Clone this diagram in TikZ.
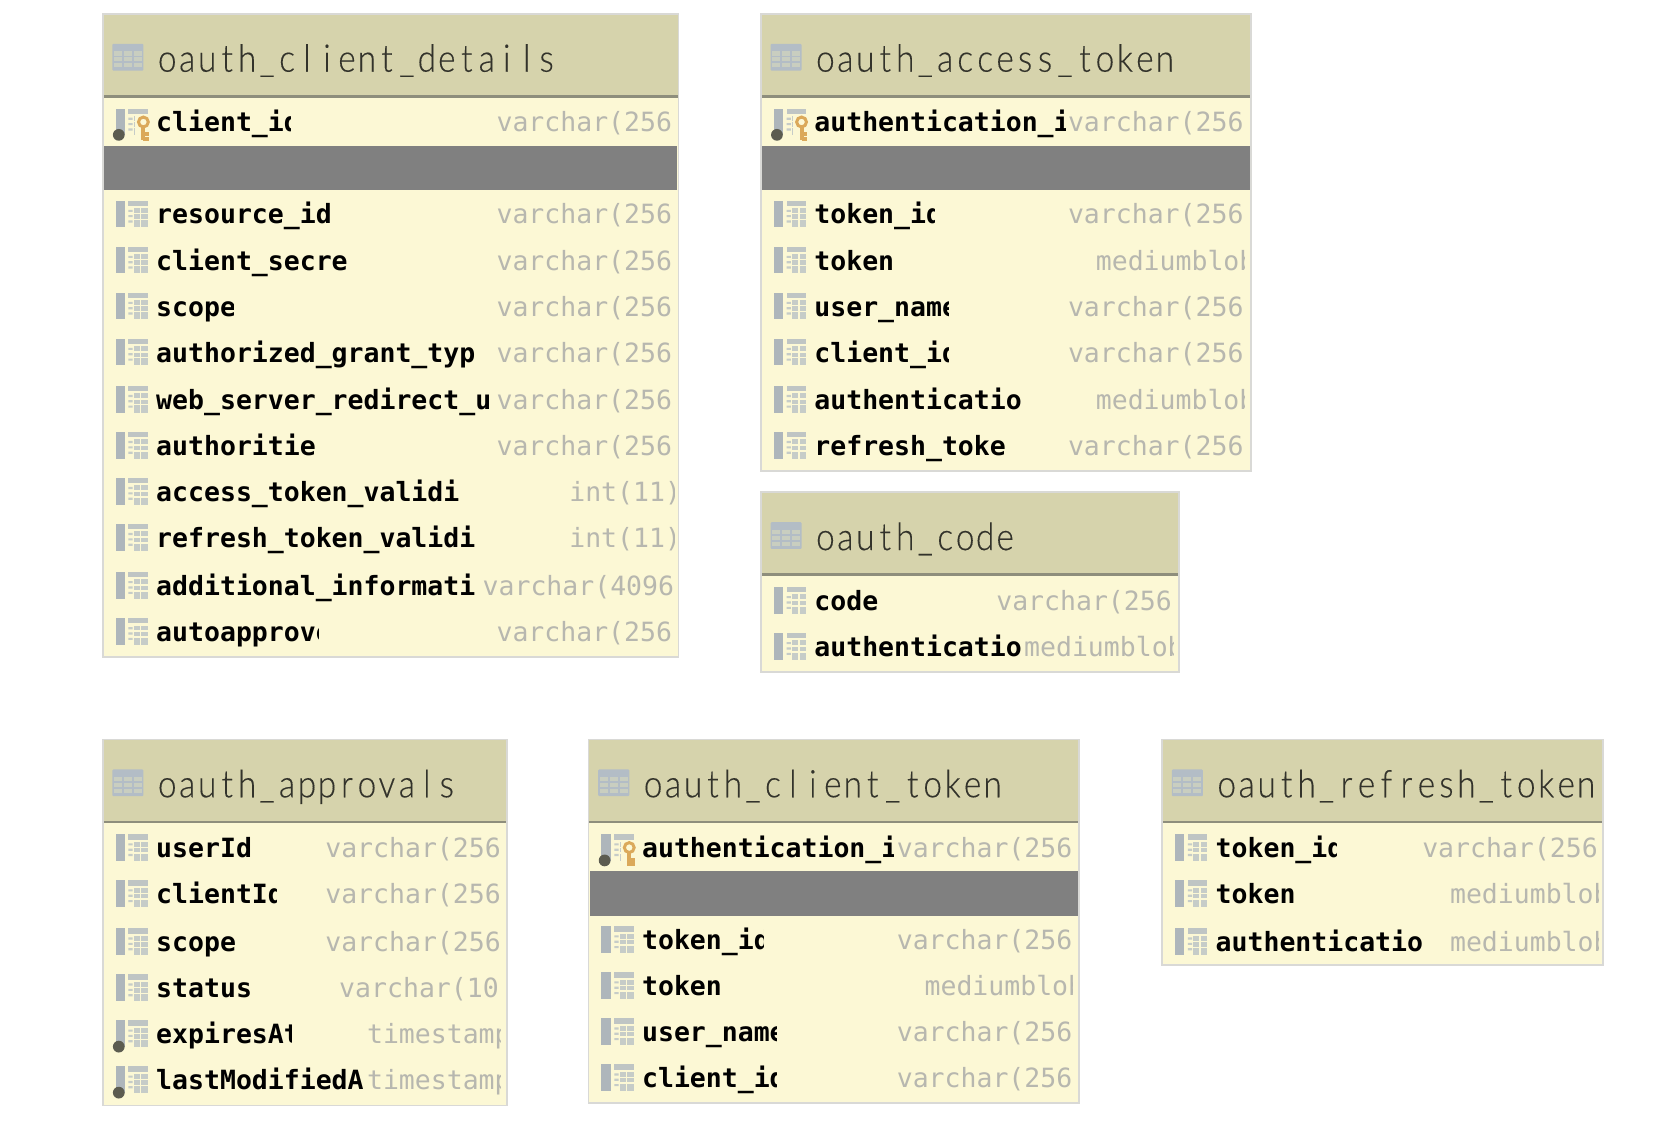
\documentclass[tikz,border=0pt]{standalone}
\usepackage{fontspec}
\setmainfont{DejaVu Sans Mono}
\newfontfamily\titlefont{Lato Light}[FakeStretch=0.88,FakeBold=0.25]
\definecolor{hdr}{HTML}{D6D3AC}
\definecolor{rowbg}{HTML}{FCF8D5}
\definecolor{sep}{HTML}{8E8E7C}
\definecolor{bdr}{HTML}{D9D9D6}
\definecolor{grayband}{HTML}{808080}
\definecolor{icoA}{HTML}{AEB6BB}
\definecolor{icoB}{HTML}{C6CCC8}
\definecolor{tbl}{HTML}{B3BDC6}
\definecolor{tblcell}{HTML}{C9CEC0}
\definecolor{gold}{HTML}{DBA95A}
\definecolor{dotc}{HTML}{5C5C50}
\definecolor{typec}{HTML}{B7B7AF}
\definecolor{titlec}{HTML}{33332B}
\makeatletter
\newcommand\spaced[1]{\@tfor\sp@ch:=#1\do{\makebox[19.96pt][c]{\sp@ch}}}
\makeatother
\tikzset{
  x=1.0702pt,y=-1.0702pt,
  namet/.style={anchor=base west,inner sep=0pt,outer sep=0pt,text=black,font=\fontsize{26.5}{30}\selectfont\bfseries},
  typet/.style={anchor=base west,inner sep=0pt,outer sep=0pt,text=typec,font=\fontsize{26.5}{30}\selectfont},
  titlet/.style={anchor=base west,inner sep=0pt,outer sep=0pt,text=titlec,font=\fontsize{38}{40}\selectfont\titlefont},
}
% #1 name, #2 left, #3 right, #4 top, #5 header bottom, #6 bottom, #7 title
\newcommand\tablebox[7]{%
  \fill[rowbg] (#2,#4) rectangle (#3,#6);
  \fill[hdr] (#2,#4) rectangle (#3,#5);
  \draw[sep,line width=2.4pt] (#2,#5) -- (#3,#5);
  \draw[bdr,line width=1.8pt] (#2,#4) rectangle (#3,#6);
  \begin{scope}[shift={(#2,#4)}]
    \fill[tbl,rounded corners=1pt] (9,28) rectangle (38,53);
    \foreach \gx in {14.2,23.5,32.8}{\foreach \gy in {37,42.5,48}{
      \fill[tblcell] (\gx-3.7,\gy-1.9) rectangle (\gx+3.7,\gy+1.9);}}
  \end{scope}
  \node[titlet] (#1) at (#2+51,#4+54) {\spaced{#7}};
}
\newcommand\colicon[2]{%
  \begin{scope}[shift={(#1,#2)}]
    \fill[icoA] (12,-12.5) rectangle (20.5,12.5);
    \fill[icoB!70!icoA] (24,-12.5) rectangle (42,-7.5);
    \fill[icoB] (29,-5.5) rectangle (42,12.5);
    \fill[icoB] (24,-4) rectangle (28,-2) (24,1) rectangle (28,3) (24,6) rectangle (28,8);
    \foreach \ly in {-1,4.5}{\fill[rowbg] (29,\ly) rectangle (42,\ly+1.4);}
    \fill[rowbg] (34.8,-5.5) rectangle (36.2,12.5);
  \end{scope}}
\newcommand\dotmark[2]{\fill[dotc] (#1+15,#2+12) circle[radius=5.5];}
\newcommand\keymark[2]{%
  \begin{scope}[shift={(#1,#2)}]
    \fill[rowbg] (30,-6.5) rectangle (46,19);
    \draw[gold,line width=3pt] (38,0) circle[radius=4.6];
    \draw[gold,line width=4pt] (38,4.5) -- (38,17) (38,11.5) -- (43,11.5) (38,15.5) -- (43,15.5);
  \end{scope}}
% #1 node id, #2 table left, #3 y, #4 name, #5 name clip x, #6 type x, #7 type, #8 type clip x
\newcommand\fldtext[8]{%
  \begin{scope}\clip (#2+48,#3-22) rectangle (#5,#3+22);
    \node[namet] (#1n) at (#2+50,#3+9.3) {#4};\end{scope}
  \begin{scope}\clip (#6-1,#3-22) rectangle (#8,#3+22);
    \node[typet] (#1t) at (#6,#3+9.3) {#7};\end{scope}}
\newcommand\fld[8]{\colicon{#2}{#3}\fldtext{#1}{#2}{#3}{#4}{#5}{#6}{#7}{#8}}
\newcommand\fldd[8]{\colicon{#2}{#3}\dotmark{#2}{#3}\fldtext{#1}{#2}{#3}{#4}{#5}{#6}{#7}{#8}}
\newcommand\fldk[8]{\colicon{#2}{#3}\keymark{#2}{#3}\dotmark{#2}{#3}\fldtext{#1}{#2}{#3}{#4}{#5}{#6}{#7}{#8}}
\newcommand\band[4]{\fill[grayband] (#1,#3) rectangle (#2,#4);}
\begin{document}
\begin{tikzpicture}
\useasboundingbox (0,0) rectangle (1568,1071);
\fill[white] (0,0) rectangle (1568,1071);

% oauth_client_details
\tablebox{cd}{96}{634}{13}{90}{614}{oauth\_client\_details}
\fldk{cda}{96}{114}{client\_id}{271}{464}{varchar(256}{630}
\band{97}{633}{136}{178}
\fld{cdb}{96}{200}{resource\_id}{460}{464}{varchar(256}{630}
\fld{cdc}{96}{243}{client\_secre}{460}{464}{varchar(256}{630}
\fld{cdd}{96}{286}{scope}{218}{464}{varchar(256}{630}
\fld{cde}{96}{329}{authorized\_grant\_typ}{460}{464}{varchar(256}{630}
\fld{cdf}{96}{373}{web\_server\_redirect\_u}{460}{464}{varchar(256}{630}
\fld{cdg}{96}{416}{authoritie}{296}{464}{varchar(256}{630}
\fld{cdh}{96}{459}{access\_token\_validi}{429}{532}{int(11)}{630}
\fld{cdi}{96}{502}{refresh\_token\_validi}{444}{532}{int(11)}{630}
\fld{cdj}{96}{547}{additional\_informati}{444}{451}{varchar(4096}{630}
\fld{cdk}{96}{590}{autoapprove}{298}{464}{varchar(256}{630}

% oauth_access_token
\tablebox{at}{711}{1169}{13}{90}{440}{oauth\_access\_token}
\fldk{ata}{711}{114}{authentication\_i}{996}{998}{varchar(256}{1165}
\band{712}{1168}{136}{178}
\fld{atb}{711}{200}{token\_id}{873}{998}{varchar(256}{1165}
\fld{atc}{711}{243}{token}{833}{1024}{mediumblob}{1163}
\fld{atd}{711}{286}{user\_name}{886}{998}{varchar(256}{1165}
\fld{ate}{711}{329}{client\_id}{886}{998}{varchar(256}{1165}
\fld{atf}{711}{373}{authenticatio}{990}{1024}{mediumblob}{1163}
\fld{atg}{711}{416}{refresh\_toke}{990}{998}{varchar(256}{1165}

% oauth_code
\tablebox{oc}{711}{1102}{460}{537}{628}{oauth\_code}
\fld{oca}{711}{561}{code}{930}{931}{varchar(256}{1098}
\fld{ocb}{711}{604}{authenticatio}{955}{957}{mediumblob}{1097}

% oauth_approvals
\tablebox{ap}{96}{474}{691}{768}{1033}{oauth\_approvals}
\fld{apa}{96}{792}{userId}{300}{304}{varchar(256}{469}
\fld{apb}{96}{835}{clientId}{258}{304}{varchar(256}{469}
\fld{apc}{96}{880}{scope}{300}{304}{varchar(256}{469}
\fld{apd}{96}{923}{status}{300}{317}{varchar(10}{469}
\fldd{ape}{96}{966}{expiresAt}{272}{343}{timestamp}{468}
\fldd{apf}{96}{1009}{lastModifiedA}{341}{343}{timestamp}{468}

% oauth_client_token
\tablebox{ct}{550}{1008}{691}{768}{1031}{oauth\_client\_token}
\fldk{cta}{550}{792}{authentication\_i}{835}{838}{varchar(256}{1004}
\band{551}{1007}{814}{856}
\fld{ctb}{550}{878}{token\_id}{713}{838}{varchar(256}{1004}
\fld{ctc}{550}{921}{token}{672}{864}{mediumblob}{1002}
\fld{ctd}{550}{964}{user\_name}{726}{838}{varchar(256}{1004}
\fld{cte}{550}{1007}{client\_id}{726}{838}{varchar(256}{1004}

% oauth_refresh_token
\tablebox{rt}{1086}{1498}{691}{768}{902}{oauth\_refresh\_token}
\fld{rta}{1086}{792}{token\_id}{1249}{1329}{varchar(256}{1495}
\fld{rtb}{1086}{835}{token}{1209}{1355}{mediumblob}{1494}
\fld{rtc}{1086}{880}{authenticatio}{1330}{1355}{mediumblob}{1494}
\end{tikzpicture}
\end{document}
